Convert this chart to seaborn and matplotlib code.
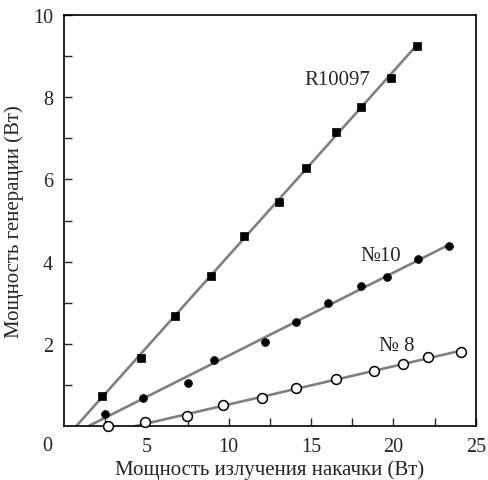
import numpy as np
import matplotlib
matplotlib.use("Agg")
import matplotlib.pyplot as plt
import seaborn as sb

# pump power (W) and generated power (W) for three samples
x_r10097 = [2.29, 4.65, 6.74, 8.90, 10.94, 13.03, 14.66, 16.50, 18.02, 19.88, 21.40]
y_r10097 = [0.74, 1.65, 2.68, 3.66, 4.63, 5.46, 6.28, 7.16, 7.77, 8.46, 9.25]

x_n10 = [2.49, 4.81, 7.50, 9.10, 12.18, 14.08, 16.04, 18.02, 19.58, 21.50, 23.36]
y_n10 = [0.29, 0.68, 1.06, 1.61, 2.05, 2.52, 2.99, 3.40, 3.63, 4.06, 4.38]

x_n8 = [2.69, 4.92, 7.44, 9.63, 12.04, 14.11, 16.54, 18.81, 20.59, 22.11, 24.13]
y_n8 = [0.00, 0.09, 0.25, 0.51, 0.68, 0.92, 1.14, 1.33, 1.52, 1.69, 1.81]

labels = ["R10097", "№10", "№ 8"]

sb.set_style("ticks")
plt.rcParams["font.family"] = ["Liberation Serif", "DejaVu Serif"]
plt.rcParams["font.size"] = 14.5

fig = plt.figure(figsize=(4.89, 4.81), dpi=100)
ax = fig.add_axes([0.131, 0.112, 0.842, 0.855])

line_color = "#808080"


def fit_line(xs, ys, fit_from=0):
    k, b = np.polyfit(xs[fit_from:], ys[fit_from:], 1)
    x0 = max(-b / k, 0)
    xx = np.array([x0, xs[-1]])
    ax.plot(xx, k * xx + b, color=line_color, lw=1.9, zorder=1)


fit_line(x_r10097, y_r10097)
fit_line(x_n10, y_n10)
fit_line(x_n8, y_n8, fit_from=1)

sb.scatterplot(x=x_r10097, y=y_r10097, marker="s", s=32, color="black",
               edgecolor="black", linewidth=0.5, ax=ax, zorder=3)
sb.scatterplot(x=x_n10, y=y_n10, marker="o", s=32, color="black",
               edgecolor="black", linewidth=0.5, ax=ax, zorder=3)
ax.scatter(x_n8, y_n8, marker="o", s=50, facecolor="white",
           edgecolor="black", linewidth=1.1, zorder=3, clip_on=False)

ax.text(16.6, 8.44, labels[0], ha="center", va="center", fontsize=15)
ax.text(19.2, 4.16, labels[1], ha="center", va="center", fontsize=15)
ax.text(20.2, 1.97, labels[2], ha="center", va="center", fontsize=15)

ax.set_xlim(0, 25)
ax.set_ylim(0, 10)
ax.set_xticks([5, 10, 15, 20, 25])
ax.set_xticks([2.5, 7.5, 12.5, 17.5, 22.5], minor=True)
ax.set_yticks([2, 4, 6, 8, 10])
ax.set_yticks([1, 3, 5, 7, 9], minor=True)
ax.tick_params(which="both", direction="in", length=6, width=1.0,
               top=False, right=False, labelsize=14.5, pad=8)
ax.text(-0.04, -0.024, "0", transform=ax.transAxes, ha="center", va="top",
        fontsize=14.5)

for sp in ax.spines.values():
    sp.set_linewidth(1.2)
    sp.set_color("black")

ax.set_xlabel("Мощность излучения накачки (Вт)", fontsize=15, labelpad=2)
ax.set_ylabel("Мощность генерации (Вт)", fontsize=15, labelpad=6)

fig.savefig("out.png", dpi=100)
